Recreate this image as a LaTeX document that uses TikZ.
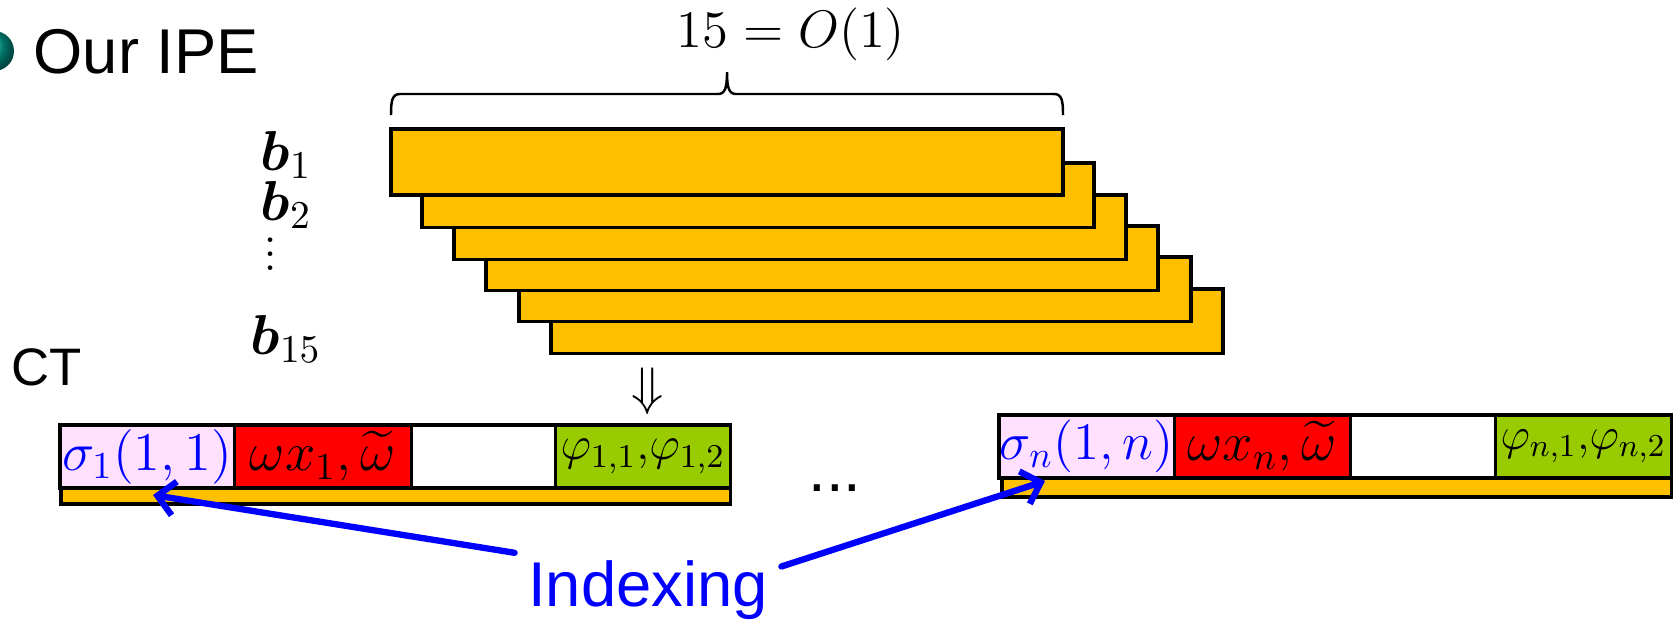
\RequirePackage{fix-cm}
\documentclass[tikz,border=0pt]{standalone}
\usepackage{amsmath,amssymb,bm}
\usepackage[no-math]{fontspec}
\newfontfamily\slidefont{Liberation Sans}
\usepackage{tikz}
\usetikzlibrary{arrows.meta,positioning}
\definecolor{StackGold}{RGB}{255,192,0}
\definecolor{CellPink}{RGB}{255,224,255}
\definecolor{CellGreen}{RGB}{153,204,0}
\definecolor{BallTeal}{RGB}{0,165,150}
\tikzset{
  stackbar/.style={draw=black,line width=.9pt,fill=StackGold},
  cell/.style={draw=black,line width=.9pt,inner sep=0pt,outer sep=0pt,minimum height=.63cm,font=\fontsize{15.5}{18}\selectfont},
  strip/.style={draw=black,line width=.9pt,fill=StackGold,inner sep=0pt,outer sep=0pt},
  veclabel/.style={inner sep=0pt,anchor=base west,font=\fontsize{16}{19}\selectfont},
  idxarrow/.style={->,blue,line width=1.8pt,line cap=round},
  slidetext/.style={inner sep=0pt,font=\slidefont\fontsize{18}{22}\selectfont}
}
\begin{document}
\begin{tikzpicture}[x=.01cm,y=-.01cm,>={Straight Barb[length=1.7mm,width=3.4mm]}]
\useasboundingbox (0,0) rectangle (1677,620);
\shade[ball color=BallTeal] (-6,51) circle (20);
\node[slidetext,anchor=base west] (title) at (33,73){Our IPE};
\node[slidetext,anchor=base west,font=\slidefont\fontsize{15}{18}\selectfont] (ct) at (11,385){CT};
\foreach \n/\x/\y/\h in {6/551/289/64.5,5/519/257/64.5,4/486/226/64.5,3/454/195/64.5,2/422/163/64.5,1/391/129/66}{
\draw[stackbar] (\x,\y) rectangle ++(672,\h);}
\draw[line width=.7pt] (391,115) .. controls (391,101) and (392,94) .. (400,94) -- (718,94) .. controls (725,94) and (727,88) .. (727,72) .. controls (727,88) and (729,94) .. (736,94) -- (1054,94) .. controls (1062,94) and (1063,101) .. (1063,115);
\node[inner sep=0pt,font=\fontsize{15}{18}\selectfont] (count) at (791,34){$15=O(1)$};
\node[veclabel] (b1) at (260,170){$\bm{b}_1$};
\node[veclabel] (b2) at (260,220){$\bm{b}_2$};
\node[inner sep=0pt,font=\fontsize{16}{19}\selectfont\boldmath] (vd) at (271,244){$\vdots$};
\node[veclabel] (b15) at (250,354){$\bm{b}_{15}$};
\node[inner sep=0pt,font=\fontsize{15}{18}\selectfont] (down) at (648,391){$\Downarrow$};
\node[cell,fill=CellPink,text=blue,minimum width=1.74cm,anchor=north west] (sigA) at (60,425){$\sigma_1(1,1)$};
\node[cell,fill=red,minimum width=1.77cm,right=0pt of sigA] (omA){$\omega x_1,\widetilde{\omega}$};
\node[cell,fill=white,minimum width=1.44cm,right=0pt of omA] (gapA){};
\node[cell,fill=CellGreen,minimum width=1.75cm,right=0pt of gapA,font=\fontsize{13.5}{16}\selectfont] (phiA){$\varphi_{1,1},\!\varphi_{1,2}$};
\node[strip,minimum width=6.69cm,minimum height=.16cm,anchor=north east] (stripA) at (phiA.south east){};
\node[cell,fill=CellPink,text=blue,minimum width=1.75cm,anchor=north west,font=\fontsize{15}{18}\selectfont] (sigB) at (999,415){$\sigma_n(1,n)$};
\node[cell,fill=red,minimum width=1.76cm,right=0pt of sigB] (omB){$\omega x_n,\widetilde{\omega}$};
\node[cell,fill=white,minimum width=1.45cm,right=0pt of omB] (gapB){};
\node[cell,fill=CellGreen,minimum width=1.76cm,right=0pt of gapB,font=\fontsize{13}{16}\selectfont] (phiB){$\varphi_{n,1},\!\varphi_{n,2}$};
\node[strip,minimum width=6.69cm,minimum height=.19cm,anchor=north east] (stripB) at (phiB.south east){};
\node[slidetext,anchor=base,font=\slidefont\fontsize{18}{22}\selectfont] (more) at (835,491){...};
\node[slidetext,text=blue,inner xsep=.13cm,inner ysep=.07cm] (idx) at (648,590){Indexing};
\coordinate (tipA) at (153,495);\coordinate (tipB) at (1045,481);
\draw[idxarrow] (idx.north west)--(tipA);\draw[idxarrow] (idx.10)--(tipB);
\end{tikzpicture}
\end{document}
